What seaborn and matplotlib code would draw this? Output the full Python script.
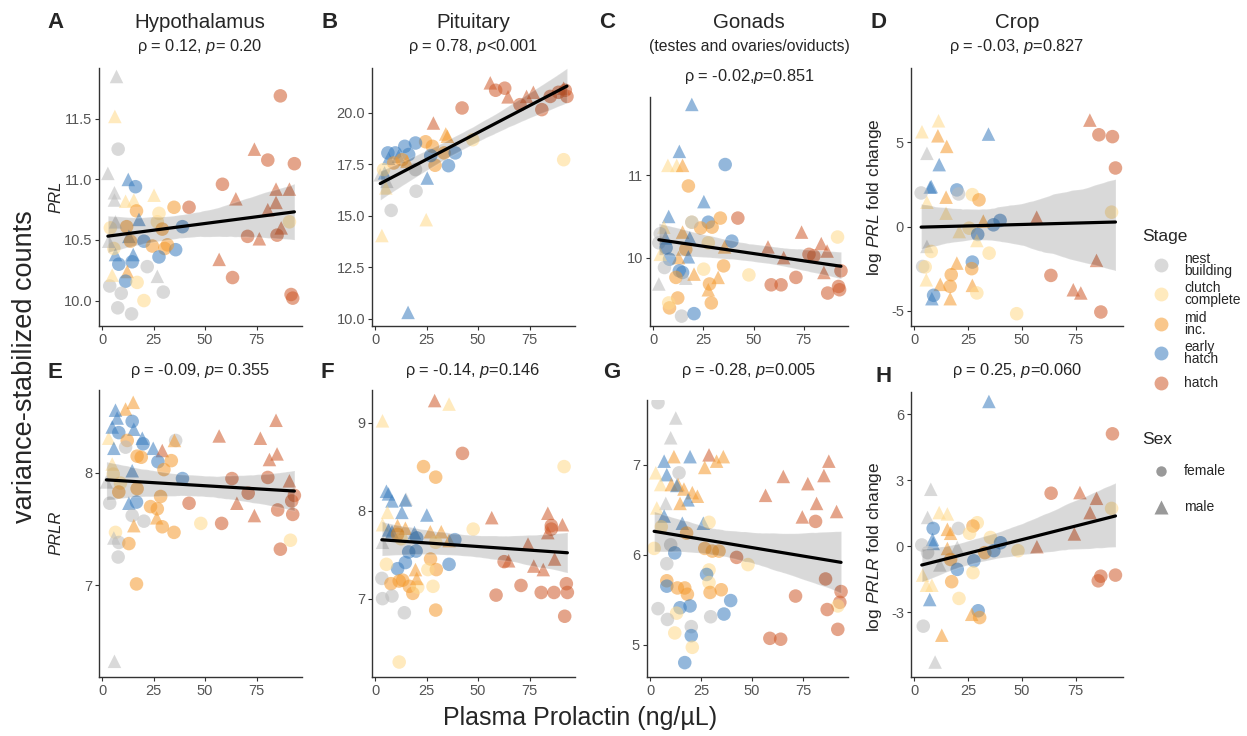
"""
Plasma prolactin vs PRL / PRLR expression, 8 panels (A-H) -> out.png
"""
import numpy as np
import pandas as pd
import matplotlib
matplotlib.use('Agg')
import matplotlib.pyplot as plt
from matplotlib.lines import Line2D
import seaborn as sns

sns.set_theme(style='ticks')
plt.rcParams['font.family'] = ['Liberation Sans', 'DejaVu Sans']
plt.rcParams['mathtext.fontset'] = 'custom'
plt.rcParams['mathtext.rm'] = 'Liberation Sans'
plt.rcParams['mathtext.it'] = 'Liberation Sans:italic'

W, H = 1247, 736

STAGE_CODES = {'N': 'nest building', 'C': 'clutch complete', 'M': 'mid inc.',
               'E': 'early hatch', 'H': 'hatch'}
STAGES = ['nest building', 'clutch complete', 'mid inc.', 'early hatch', 'hatch']
STAGE_LABELS = ['nest\nbuilding', 'clutch\ncomplete', 'mid\ninc.', 'early\nhatch', 'hatch']
SEX_CODES = {'f': 'female', 'm': 'male'}
SEXES = ['female', 'male']

PALETTE = {'nest building': '#BBBBBB', 'clutch complete': '#FFD98A',
           'mid inc.': '#F59A2E', 'early hatch': '#3A7DBF', 'hatch': '#CF5A2A'}

X_TICKS = [0, 25, 50, 75]
X_TICKLABELS = ['0', '25', '50', '75']

# (prolactin, expression, stage, sex)
PTS_A = [
    (7.0, 11.85, 'N', 'm'), (6.2, 11.52, 'C', 'm'), (7.8, 11.25, 'N', 'f'), (2.8, 11.05, 'N', 'm'),
    (12.7, 11.0, 'E', 'm'), (16.2, 10.94, 'E', 'f'), (6.0, 10.89, 'N', 'm'), (6.0, 10.83, 'N', 'm'),
    (11.4, 10.82, 'C', 'm'), (15.4, 10.83, 'C', 'm'), (25.2, 10.87, 'C', 'm'), (16.7, 10.74, 'M', 'f'),
    (17.9, 10.67, 'E', 'm'), (27.6, 10.72, 'C', 'f'), (34.9, 10.77, 'M', 'f'), (42.2, 10.77, 'H', 'f'),
    (11.9, 10.61, 'M', 'f'), (4.0, 10.60, 'C', 'f'), (6.5, 10.65, 'N', 'm'), (13.0, 10.53, 'E', 'm'),
    (13.8, 10.49, 'M', 'f'), (26.8, 10.65, 'C', 'f'), (29.2, 10.59, 'M', 'f'), (20.3, 10.49, 'E', 'f'),
    (24.4, 10.45, 'M', 'f'), (30.4, 10.43, 'M', 'f'), (35.7, 10.42, 'E', 'f'), (39.0, 10.61, 'E', 'f'),
    (31.7, 10.46, 'M', 'f'), (6.5, 10.38, 'E', 'm'), (8.1, 10.30, 'E', 'f'), (15.1, 10.38, 'E', 'm'),
    (14.6, 10.32, 'E', 'f'), (27.6, 10.36, 'E', 'f'), (12.2, 10.24, 'M', 'm'), (21.9, 10.28, 'N', 'f'),
    (26.8, 10.20, 'N', 'm'), (11.4, 10.16, 'E', 'f'), (17.0, 10.15, 'C', 'f'), (3.7, 10.12, 'N', 'f'),
    (9.3, 10.06, 'N', 'f'), (29.7, 10.07, 'N', 'f'), (20.3, 10.0, 'C', 'f'), (7.6, 9.94, 'N', 'f'),
    (14.3, 9.89, 'N', 'f'), (4.9, 10.21, 'C', 'm'), (5.7, 10.43, 'C', 'f'), (3.2, 10.49, 'N', 'm'),
    (86.5, 11.69, 'H', 'f'), (73.9, 11.25, 'H', 'm'), (80.4, 11.16, 'H', 'f'), (93.3, 11.13, 'H', 'f'),
    (58.4, 10.96, 'H', 'f'), (64.9, 10.84, 'H', 'm'), (84.4, 10.92, 'H', 'm'), (90.9, 10.92, 'H', 'm'),
    (84.4, 10.81, 'H', 'm'), (80.4, 10.75, 'H', 'm'), (86.9, 10.60, 'H', 'm'), (70.6, 10.53, 'H', 'f'),
    (76.3, 10.51, 'H', 'm'), (84.9, 10.54, 'H', 'f'), (56.8, 10.34, 'H', 'm'), (63.3, 10.19, 'H', 'f'),
    (91.7, 10.05, 'H', 'f'), (92.5, 10.02, 'H', 'f'), (90.9, 10.65, 'C', 'f'),
]

PTS_B = [
    (55.9, 21.46, 'H', 'm'), (58.5, 21.1, 'H', 'f'), (62.9, 21.2, 'H', 'f'), (64.5, 20.78, 'H', 'm'),
    (76.8, 21.0, 'H', 'm'), (73.5, 20.8, 'H', 'm'), (70.3, 20.4, 'H', 'f'), (80.9, 20.16, 'H', 'f'),
    (85.0, 20.8, 'H', 'f'), (89.0, 21.0, 'H', 'f'), (92.3, 21.1, 'H', 'f'), (93.1, 20.8, 'H', 'f'),
    (91.5, 21.2, 'H', 'm'), (42.2, 20.24, 'H', 'f'), (28.3, 19.51, 'H', 'm'), (34.3, 18.98, 'M', 'm'),
    (35.1, 18.87, 'M', 'm'), (47.4, 18.7, 'C', 'f'), (24.5, 18.6, 'M', 'f'), (27.8, 18.38, 'M', 'f'),
    (33.5, 18.06, 'M', 'f'), (19.6, 18.54, 'E', 'f'), (38.9, 18.06, 'E', 'f'), (35.6, 17.44, 'E', 'f'),
    (29.1, 17.46, 'M', 'f'), (27.0, 17.93, 'E', 'f'), (6.2, 18.06, 'E', 'f'), (9.8, 18.06, 'E', 'f'),
    (14.4, 18.38, 'E', 'f'), (6.5, 17.8, 'E', 'm'), (11.4, 17.9, 'E', 'm'), (16.3, 17.98, 'E', 'f'),
    (13.1, 17.73, 'M', 'f'), (9.0, 17.57, 'M', 'f'), (15.5, 17.65, 'M', 'm'), (19.6, 17.25, 'N', 'f'),
    (2.5, 17.0, 'N', 'm'), (4.6, 17.09, 'E', 'm'), (5.7, 16.68, 'N', 'm'), (5.2, 16.36, 'C', 'm'),
    (25.3, 16.84, 'E', 'm'), (19.9, 16.2, 'N', 'f'), (7.8, 15.27, 'N', 'f'), (24.8, 14.82, 'C', 'm'),
    (3.3, 14.05, 'C', 'm'), (16.0, 10.32, 'E', 'm'), (91.5, 17.73, 'C', 'f'), (4.1, 17.25, 'C', 'f'),
]

PTS_C = [
    (19.3, 11.86, 'E', 'm'), (13.1, 11.29, 'E', 'm'), (7.4, 11.12, 'C', 'm'), (11.8, 11.12, 'C', 'm'),
    (14.7, 11.12, 'M', 'm'), (35.9, 11.13, 'E', 'f'), (17.6, 10.87, 'M', 'f'), (25.3, 10.68, 'E', 'm'),
    (7.8, 10.5, 'E', 'm'), (27.5, 10.43, 'E', 'f'), (19.3, 10.43, 'C', 'f'), (33.5, 10.48, 'M', 'f'),
    (42.2, 10.48, 'H', 'f'), (23.7, 10.36, 'M', 'f'), (29.4, 10.37, 'M', 'f'), (5.4, 10.37, 'C', 'm'),
    (14.7, 10.31, 'M', 'm'), (6.2, 10.24, 'E', 'm'), (18.3, 10.24, 'E', 'm'), (39.2, 10.2, 'E', 'f'),
    (27.5, 10.18, 'C', 'f'), (73.9, 10.31, 'H', 'm'), (91.8, 10.25, 'C', 'f'), (35.6, 10.13, 'M', 'm'),
    (57.2, 10.13, 'H', 'm'), (83.7, 10.17, 'H', 'm'), (2.9, 10.18, 'N', 'f'), (6.5, 10.12, 'E', 'f'),
    (16.3, 10.1, 'M', 'f'), (17.6, 10.01, 'E', 'm'), (12.7, 10.0, 'M', 'm'), (8.2, 9.98, 'E', 'f'),
    (5.7, 9.88, 'N', 'f'), (13.1, 9.84, 'E', 'f'), (14.7, 9.82, 'E', 'f'), (11.4, 9.76, 'M', 'f'),
    (16.3, 9.75, 'N', 'm'), (20.4, 9.8, 'M', 'm'), (25.2, 9.86, 'C', 'f'), (35.1, 9.9, 'M', 'f'),
    (47.7, 9.79, 'C', 'f'), (65.0, 10.0, 'H', 'm'), (77.6, 10.04, 'H', 'f'), (80.0, 10.02, 'H', 'f'),
    (86.6, 10.08, 'H', 'm'), (85.0, 9.82, 'H', 'm'), (71.1, 9.76, 'H', 'f'), (63.7, 9.67, 'H', 'f'),
    (58.8, 9.67, 'H', 'f'), (93.5, 9.84, 'H', 'f'), (92.3, 9.65, 'H', 'f'), (86.9, 9.57, 'H', 'f'),
    (92.8, 9.61, 'H', 'f'), (27.5, 9.61, 'M', 'm'), (28.1, 9.68, 'M', 'f'), (32.4, 9.76, 'M', 'm'),
    (12.3, 9.51, 'M', 'f'), (29.0, 9.45, 'M', 'f'), (8.2, 9.39, 'M', 'f'), (7.8, 9.45, 'C', 'f'),
    (14.2, 9.29, 'N', 'f'), (20.4, 9.32, 'E', 'f'), (2.9, 9.68, 'N', 'm'), (3.6, 10.04, 'C', 'm'),
    (3.6, 10.29, 'N', 'f'), (19.3, 10.43, 'N', 'f'),
]

PTS_D = [
    (11.3, 6.27, 'C', 'm'), (3.6, 5.62, 'C', 'm'), (11.0, 5.38, 'M', 'm'), (34.5, 5.48, 'E', 'm'),
    (15.1, 4.75, 'M', 'm'), (5.9, 4.34, 'N', 'm'), (11.6, 3.67, 'E', 'm'), (7.9, 2.37, 'E', 'm'),
    (7.4, 2.33, 'E', 'm'), (3.2, 1.99, 'N', 'f'), (19.8, 2.17, 'E', 'f'), (20.6, 1.93, 'N', 'f'),
    (5.9, 1.44, 'C', 'm'), (14.8, 1.74, 'M', 'm'), (27.0, 1.89, 'C', 'f'), (30.1, 1.58, 'M', 'f'),
    (14.8, 0.79, 'C', 'm'), (56.9, 0.55, 'H', 'm'), (91.7, 0.85, 'C', 'f'), (39.9, 0.36, 'E', 'f'),
    (36.8, 0.1, 'E', 'f'), (32.1, 0.32, 'M', 'm'), (25.5, -0.1, 'C', 'f'), (20.9, -0.3, 'C', 'm'),
    (29.5, -0.47, 'E', 'f'), (29.1, -0.83, 'C', 'm'), (5.9, -1.18, 'N', 'm'), (7.9, -1.48, 'C', 'f'),
    (34.8, -1.58, 'C', 'f'), (84.7, -2.01, 'H', 'm'), (27.0, -2.11, 'E', 'f'), (19.8, -2.17, 'M', 'm'),
    (3.9, -2.37, 'N', 'f'), (5.1, -2.4, 'C', 'f'), (26.7, -2.5, 'M', 'f'), (63.5, -2.9, 'H', 'f'),
    (17.2, -2.86, 'M', 'f'), (5.6, -3.16, 'C', 'm'), (16.7, -3.55, 'M', 'f'), (12.1, -3.43, 'M', 'm'),
    (27.0, -3.49, 'M', 'm'), (29.1, -3.94, 'C', 'f'), (73.9, -3.75, 'H', 'm'), (77.4, -3.94, 'H', 'm'),
    (9.0, -4.08, 'E', 'f'), (8.2, -4.28, 'E', 'm'), (16.7, -4.28, 'M', 'm'), (47.6, -5.17, 'C', 'f'),
    (86.7, -5.07, 'H', 'f'), (81.6, 6.31, 'H', 'm'), (85.8, 5.44, 'H', 'f'), (92.1, 5.33, 'H', 'f'),
    (93.5, 3.47, 'H', 'f'),
]

PTS_E = [
    (15.1, 8.63, 'M', 'm'), (11.4, 8.57, 'M', 'm'), (6.5, 8.56, 'E', 'm'), (7.3, 8.49, 'E', 'm'),
    (14.6, 8.46, 'E', 'f'), (3.2, 8.31, 'C', 'm'), (4.9, 8.41, 'E', 'm'), (8.1, 8.36, 'E', 'f'),
    (15.4, 8.39, 'E', 'm'), (12.2, 8.29, 'M', 'f'), (19.5, 8.31, 'E', 'm'), (19.9, 8.26, 'E', 'f'),
    (11.4, 8.23, 'N', 'f'), (5.7, 8.22, 'E', 'm'), (24.8, 8.22, 'E', 'm'), (29.2, 8.2, 'H', 'm'),
    (35.7, 8.29, 'N', 'f'), (35.1, 8.29, 'M', 'm'), (17.0, 8.15, 'M', 'f'), (19.0, 8.14, 'M', 'f'),
    (27.1, 8.1, 'E', 'f'), (33.6, 8.11, 'M', 'f'), (30.0, 8.03, 'M', 'f'), (14.6, 8.02, 'E', 'm'),
    (4.9, 8.08, 'C', 'm'), (5.4, 7.99, 'C', 'f'), (2.1, 7.92, 'N', 'm'), (39.0, 7.95, 'E', 'f'),
    (8.9, 7.91, 'C', 'f'), (8.1, 7.83, 'M', 'f'), (17.0, 7.86, 'M', 'f'), (28.4, 7.79, 'M', 'f'),
    (3.7, 7.73, 'N', 'f'), (13.0, 7.73, 'E', 'm'), (16.7, 7.74, 'E', 'f'), (23.5, 7.7, 'M', 'f'),
    (26.8, 7.68, 'M', 'f'), (26.5, 7.6, 'M', 'm'), (14.6, 7.62, 'N', 'f'), (20.3, 7.57, 'N', 'f'),
    (29.2, 7.52, 'M', 'f'), (34.9, 7.47, 'M', 'f'), (47.9, 7.55, 'C', 'f'), (15.4, 7.53, 'M', 'm'),
    (6.5, 7.47, 'C', 'f'), (5.7, 7.42, 'N', 'm'), (8.1, 7.38, 'N', 'f'), (13.0, 7.37, 'M', 'f'),
    (7.8, 7.25, 'N', 'f'), (16.7, 7.01, 'M', 'f'), (6.0, 6.32, 'N', 'm'),
    (56.8, 8.33, 'H', 'm'), (76.8, 8.31, 'H', 'm'), (84.4, 8.47, 'H', 'm'), (84.9, 8.17, 'H', 'm'),
    (81.2, 8.12, 'H', 'm'), (80.4, 7.96, 'H', 'f'), (63.0, 7.95, 'H', 'f'), (90.9, 7.93, 'H', 'm'),
    (70.9, 7.82, 'H', 'f'), (93.3, 7.8, 'H', 'f'), (92.0, 7.75, 'H', 'f'), (65.4, 7.73, 'H', 'm'),
    (42.2, 7.73, 'H', 'f'), (85.2, 7.67, 'H', 'f'), (73.9, 7.62, 'H', 'm'), (92.5, 7.63, 'H', 'f'),
    (58.0, 7.55, 'H', 'f'), (86.5, 7.32, 'H', 'f'), (91.4, 7.4, 'C', 'f'),
]

PTS_F = [
    (28.9, 9.25, 'H', 'm'), (35.9, 9.21, 'C', 'm'), (3.6, 9.02, 'C', 'm'), (42.4, 8.65, 'H', 'f'),
    (23.5, 8.5, 'M', 'f'), (91.7, 8.5, 'C', 'f'), (29.4, 8.38, 'M', 'f'), (5.5, 8.22, 'E', 'm'),
    (6.5, 8.19, 'E', 'm'), (8.2, 8.11, 'E', 'm'), (15.0, 8.13, 'N', 'm'), (14.7, 8.12, 'E', 'm'),
    (13.0, 7.98, 'E', 'm'), (6.0, 7.98, 'C', 'm'), (25.1, 7.95, 'E', 'm'), (56.6, 7.92, 'H', 'm'),
    (83.8, 7.97, 'H', 'm'), (90.9, 7.84, 'H', 'm'), (85.5, 7.83, 'H', 'f'), (85.5, 7.79, 'H', 'f'),
    (47.6, 7.79, 'C', 'f'), (3.6, 7.84, 'C', 'm'), (10.9, 7.83, 'M', 'm'), (14.7, 7.8, 'M', 'm'),
    (6.5, 7.78, 'E', 'm'), (8.2, 7.76, 'E', 'm'), (26.8, 7.76, 'M', 'm'), (32.1, 7.76, 'M', 'm'),
    (19.1, 7.75, 'E', 'm'), (35.9, 7.66, 'M', 'm'), (38.7, 7.67, 'E', 'f'), (20.2, 7.69, 'E', 'f'),
    (12.6, 7.68, 'C', 'f'), (10.9, 7.73, 'M', 'f'), (83.8, 7.75, 'H', 'm'), (29.4, 7.64, 'C', 'f'),
    (3.6, 7.64, 'N', 'm'), (19.9, 7.54, 'E', 'f'), (16.3, 7.53, 'E', 'f'), (26.9, 7.45, 'M', 'f'),
    (74.2, 7.62, 'H', 'm'), (64.8, 7.43, 'H', 'm'), (62.6, 7.42, 'H', 'f'), (77.0, 7.37, 'H', 'm'),
    (81.6, 7.33, 'H', 'm'), (87.1, 7.45, 'H', 'm'), (35.9, 7.39, 'E', 'f'), (14.7, 7.41, 'E', 'f'),
    (10.9, 7.34, 'E', 'f'), (5.5, 7.39, 'C', 'f'), (29.7, 7.33, 'M', 'f'), (25.6, 7.33, 'C', 'f'),
    (19.6, 7.33, 'M', 'm'), (3.3, 7.23, 'N', 'f'), (7.7, 7.17, 'M', 'f'), (11.7, 7.2, 'M', 'f'),
    (13.4, 7.21, 'M', 'f'), (16.6, 7.14, 'M', 'f'), (18.3, 7.06, 'M', 'f'), (20.7, 7.13, 'C', 'f'),
    (28.1, 7.14, 'C', 'f'), (20.2, 7.23, 'M', 'm'), (3.6, 7.0, 'N', 'f'), (8.2, 7.03, 'N', 'f'),
    (58.7, 7.04, 'H', 'f'), (70.8, 7.15, 'H', 'f'), (80.6, 7.07, 'H', 'f'), (86.8, 7.07, 'H', 'f'),
    (92.8, 7.17, 'H', 'f'), (93.3, 7.07, 'H', 'f'), (92.0, 6.8, 'H', 'f'), (29.4, 6.87, 'M', 'f'),
    (14.2, 6.84, 'N', 'f'), (11.7, 6.28, 'C', 'f'),
]

PTS_G = [
    (3.9, 7.69, 'N', 'f'), (12.6, 7.52, 'N', 'm'), (10.1, 7.3, 'N', 'm'), (11.7, 7.09, 'M', 'm'),
    (19.6, 7.09, 'E', 'm'), (28.9, 7.11, 'H', 'm'), (35.9, 7.09, 'M', 'm'), (32.6, 7.04, 'M', 'm'),
    (6.9, 7.04, 'E', 'm'), (87.6, 7.04, 'H', 'm'), (26.8, 6.97, 'M', 'm'), (2.8, 6.91, 'C', 'm'),
    (14.2, 6.91, 'N', 'f'), (8.2, 6.89, 'E', 'm'), (85.2, 6.88, 'H', 'm'), (65.3, 6.87, 'H', 'm'),
    (77.3, 6.79, 'H', 'm'), (5.2, 6.78, 'C', 'm'), (10.4, 6.78, 'M', 'm'), (13.7, 6.78, 'M', 'm'),
    (13.1, 6.77, 'E', 'm'), (16.6, 6.73, 'M', 'm'), (20.7, 6.69, 'M', 'm'), (23.2, 6.65, 'M', 'm'),
    (56.6, 6.66, 'H', 'm'), (18.6, 6.61, 'E', 'm'), (14.7, 6.57, 'M', 'm'), (81.6, 6.57, 'H', 'm'),
    (91.4, 6.48, 'H', 'm'), (7.7, 6.57, 'N', 'm'), (3.3, 6.52, 'C', 'm'), (6.9, 6.43, 'E', 'm'),
    (74.6, 6.42, 'H', 'm'), (15.8, 6.35, 'E', 'm'), (26.1, 6.35, 'E', 'm'), (28.9, 6.36, 'C', 'f'),
    (81.1, 6.37, 'H', 'f'), (5.5, 6.31, 'C', 'f'), (17.9, 6.24, 'M', 'f'), (2.0, 6.07, 'C', 'f'),
    (26.8, 6.07, 'M', 'f'), (30.5, 6.04, 'M', 'f'), (33.8, 6.04, 'M', 'f'), (10.1, 6.11, 'N', 'f'),
    (12.1, 6.02, 'E', 'f'), (42.4, 5.97, 'H', 'f'), (48.0, 5.89, 'C', 'f'), (8.2, 5.9, 'N', 'f'),
    (8.2, 5.71, 'M', 'f'), (8.2, 5.65, 'E', 'f'), (28.9, 5.83, 'C', 'f'), (27.7, 5.78, 'E', 'f'),
    (28.9, 5.69, 'C', 'f'), (29.4, 5.58, 'M', 'f'), (13.4, 5.63, 'M', 'f'), (17.0, 5.63, 'M', 'f'),
    (18.3, 5.56, 'M', 'f'), (34.9, 5.61, 'M', 'f'), (71.3, 5.54, 'H', 'f'), (86.0, 5.73, 'H', 'f'),
    (93.6, 5.59, 'H', 'f'), (93.0, 5.47, 'H', 'f'), (92.0, 5.43, 'C', 'f'), (86.8, 5.39, 'H', 'f'),
    (39.5, 5.49, 'E', 'f'), (14.7, 5.41, 'E', 'f'), (19.6, 5.43, 'E', 'f'), (36.2, 5.34, 'E', 'f'),
    (13.0, 5.35, 'C', 'f'), (3.9, 5.4, 'N', 'f'), (8.5, 5.28, 'N', 'f'), (29.7, 5.31, 'N', 'f'),
    (12.1, 5.13, 'C', 'f'), (20.2, 5.2, 'N', 'f'), (20.2, 5.1, 'E', 'f'), (20.7, 4.97, 'C', 'f'),
    (17.0, 4.8, 'E', 'f'), (58.7, 5.07, 'H', 'f'), (64.0, 5.06, 'H', 'f'), (92.0, 5.17, 'H', 'f'),
]

PTS_H = [
    (34.7, 6.57, 'E', 'm'), (92.1, 5.1, 'H', 'f'), (7.7, 2.58, 'N', 'm'), (63.6, 2.4, 'H', 'f'),
    (77.0, 2.43, 'H', 'm'), (84.7, 2.17, 'H', 'm'), (91.7, 1.71, 'C', 'f'), (81.7, 1.52, 'H', 'm'),
    (11.6, 1.52, 'C', 'm'), (15.4, 1.46, 'C', 'm'), (6.2, 1.3, 'N', 'm'), (29.3, 1.06, 'C', 'f'),
    (27.3, 0.91, 'M', 'f'), (8.8, 0.8, 'E', 'f'), (15.4, 0.76, 'M', 'm'), (20.5, 0.8, 'N', 'f'),
    (16.9, 0.58, 'M', 'm'), (25.7, 0.58, 'C', 'f'), (74.4, 0.55, 'H', 'm'), (35.4, 0.39, 'C', 'f'),
    (8.5, 0.3, 'E', 'm'), (8.8, 0.12, 'E', 'm'), (40.1, 0.15, 'E', 'f'), (3.5, 0.05, 'N', 'f'),
    (57.0, -0.03, 'H', 'm'), (15.4, -0.11, 'M', 'm'), (20.0, -0.06, 'N', 'm'), (48.2, -0.21, 'C', 'f'),
    (32.8, -0.3, 'M', 'f'), (37.0, -0.21, 'E', 'f'), (6.2, -0.3, 'N', 'f'), (27.7, -0.67, 'E', 'f'),
    (16.9, -0.61, 'M', 'f'), (11.9, -0.86, 'N', 'm'), (20.0, -1.06, 'E', 'f'), (27.3, -1.21, 'C', 'f'),
    (3.9, -1.32, 'C', 'm'), (17.4, -1.62, 'M', 'f'), (5.7, -1.78, 'C', 'm'), (8.2, -1.78, 'C', 'm'),
    (86.7, -1.37, 'H', 'f'), (93.5, -1.32, 'H', 'f'), (85.5, -1.58, 'H', 'f'), (20.8, -2.38, 'C', 'f'),
    (7.2, -2.43, 'E', 'm'), (29.7, -2.94, 'E', 'f'), (26.7, -3.1, 'M', 'm'), (30.4, -3.25, 'M', 'f'),
    (4.2, -3.64, 'N', 'f'), (12.8, -4.05, 'M', 'm'), (9.7, -5.27, 'N', 'm'),
]

PANELS = ['A', 'B', 'C', 'D', 'E', 'F', 'G', 'H']
POINTS = dict(zip(PANELS, [PTS_A, PTS_B, PTS_C, PTS_D, PTS_E, PTS_F, PTS_G, PTS_H]))

YLIM = {'A': (9.79, 11.92), 'B': (9.66, 22.18), 'C': (9.17, 11.95), 'D': (-5.9, 9.4),
        'E': (6.18, 8.74), 'F': (6.11, 9.37), 'G': (4.64, 7.72), 'H': (-5.95, 7.0)}
YTICKS = {'A': [10.0, 10.5, 11.0, 11.5], 'B': [10.0, 12.5, 15.0, 17.5, 20.0], 'C': [10, 11],
          'D': [-5, 0, 5], 'E': [7, 8], 'F': [7, 8, 9], 'G': [5, 6, 7], 'H': [-3, 0, 3, 6]}
YTICKLABELS = {'A': ['10.0', '10.5', '11.0', '11.5'],
               'B': ['10.0', '12.5', '15.0', '17.5', '20.0'],
               'C': ['10', '11'], 'D': ['-5', '0', '5'], 'E': ['7', '8'],
               'F': ['7', '8', '9'], 'G': ['5', '6', '7'], 'H': ['-3', '0', '3', '6']}

TITLES = ['Hypothalamus', 'Pituitary', 'Gonads', 'Crop']
STATS = {'A': r'ρ = 0.12, $p$= 0.20', 'B': r'ρ = 0.78, $p$<0.001',
         'C': r'ρ = -0.02,$p$=0.851', 'D': r'ρ = -0.03, $p$=0.827',
         'E': r'ρ = -0.09, $p$= 0.355', 'F': r'ρ = -0.14, $p$=0.146',
         'G': r'ρ = -0.28, $p$=0.005', 'H': r'ρ = 0.25, $p$=0.060'}

# axes boxes in pixels: left, right, top, bottom
BOXES = {'A': (99, 302, 68, 326), 'B': (372, 575, 68, 326), 'C': (650, 848, 97, 326),
         'D': (911, 1123, 68, 326), 'E': (99, 302, 390, 677), 'F': (372, 575, 390, 677),
         'G': (647, 848, 400, 677), 'H': (911, 1123, 392, 677)}


def px_rect(l, r, t, b):
    return [l / W, 1 - b / H, (r - l) / W, (b - t) / H]


def ftext(fig, x, y, s, **kw):
    kw.setdefault('ha', 'center')
    kw.setdefault('va', 'center')
    fig.text(x / W, 1 - y / H, s, **kw)


def fkey(fig, x, y, marker, color, size, alpha):
    fig.add_artist(Line2D([x / W], [1 - y / H], transform=fig.transFigure,
                          marker=marker, linestyle='', markersize=size,
                          markerfacecolor=color, markeredgecolor='none', alpha=alpha))


fig = plt.figure(figsize=(W / 100, H / 100), dpi=100)

for p in PANELS:
    df = pd.DataFrame(POINTS[p], columns=['prl', 'expr', 'stage', 'sex'])
    df['stage'] = df['stage'].map(STAGE_CODES)
    df['sex'] = df['sex'].map(SEX_CODES)

    ax = fig.add_axes(px_rect(*BOXES[p]))
    sns.scatterplot(data=df, x='prl', y='expr', hue='stage', hue_order=STAGES,
                    palette=PALETTE, style='sex', style_order=SEXES,
                    markers={'female': 'o', 'male': '^'}, s=95, alpha=0.55,
                    linewidth=0, legend=False, ax=ax)
    sns.regplot(data=df, x='prl', y='expr', scatter=False, ci=95, color='black',
                line_kws={'lw': 2.3}, seed=3, ax=ax)

    ax.set_xlim(-1.5, 97)
    ax.set_ylim(*YLIM[p])
    ax.set_xticks(X_TICKS)
    ax.set_xticklabels(X_TICKLABELS)
    ax.set_yticks(YTICKS[p])
    ax.set_yticklabels(YTICKLABELS[p])
    ax.set_xlabel('')
    ax.set_ylabel('')
    sns.despine(ax=ax)
    for s in ['left', 'bottom']:
        ax.spines[s].set_color('#333333')
        ax.spines[s].set_linewidth(1.0)
    ax.tick_params(direction='out', length=3, width=0.8, color='#333333',
                   labelcolor='#555555', labelsize=10.5, pad=2, bottom=True, left=True)

# titles + stats
ftext(fig, 200, 22, TITLES[0], fontsize=14.8)
ftext(fig, 473, 22, TITLES[1], fontsize=14.8)
ftext(fig, 749, 22, TITLES[2], fontsize=14.8)
ftext(fig, 1017, 22, TITLES[3], fontsize=14.8)
ftext(fig, 749, 46, '(testes and ovaries/oviducts)', fontsize=11.3)
ftext(fig, 200, 46, STATS['A'], fontsize=11.8)
ftext(fig, 473, 46, STATS['B'], fontsize=11.8)
ftext(fig, 749, 77, STATS['C'], fontsize=11.8)
ftext(fig, 1017, 46, STATS['D'], fontsize=11.8)
ftext(fig, 200, 371, STATS['E'], fontsize=11.8)
ftext(fig, 473, 371, STATS['F'], fontsize=11.8)
ftext(fig, 749, 371, STATS['G'], fontsize=11.8)
ftext(fig, 1017, 371, STATS['H'], fontsize=11.8)

# panel letters
for letter, (x, y) in zip(PANELS, [(55, 22), (330, 22), (607, 22), (878, 22),
                                   (55, 373), (327, 373), (612, 373), (884, 377)]):
    ftext(fig, x, y, letter, fontsize=16, fontweight='bold')

# axis labels
ftext(fig, 25, 367, 'variance-stabilized counts', fontsize=19.5, rotation=90)
ftext(fig, 56, 197, 'PRL', fontsize=12, rotation=90, fontstyle='italic')
ftext(fig, 56, 533, 'PRLR', fontsize=12, rotation=90, fontstyle='italic')
ftext(fig, 874, 197, r'log $PRL$ fold change', fontsize=12.5, rotation=90)
ftext(fig, 874, 547, r'log $PRLR$ fold change', fontsize=12.5, rotation=90)
ftext(fig, 580, 718, 'Plasma Prolactin (ng/µL)', fontsize=18)

# legends, drawn as keys + labels at fixed spots
ftext(fig, 1142, 236, 'Stage', fontsize=12.5, ha='left')
for stage, label, y in zip(STAGES, STAGE_LABELS, [265, 294, 324, 353, 383]):
    fkey(fig, 1161, y, 'o', PALETTE[stage], 10, 0.55)
    ftext(fig, 1184, y, label, fontsize=10, ha='left', linespacing=0.85)

ftext(fig, 1142, 440, 'Sex', fontsize=12.5, ha='left')
for sex, marker, size, y in zip(SEXES, ['o', '^'], [7.5, 9.5], [471, 507]):
    fkey(fig, 1161, y, marker, '#777777', size, 0.75)
    ftext(fig, 1184, y, sex, fontsize=10, ha='left')

fig.savefig('out.png', dpi=100)
plt.close(fig)
print('[OK] out.png')
